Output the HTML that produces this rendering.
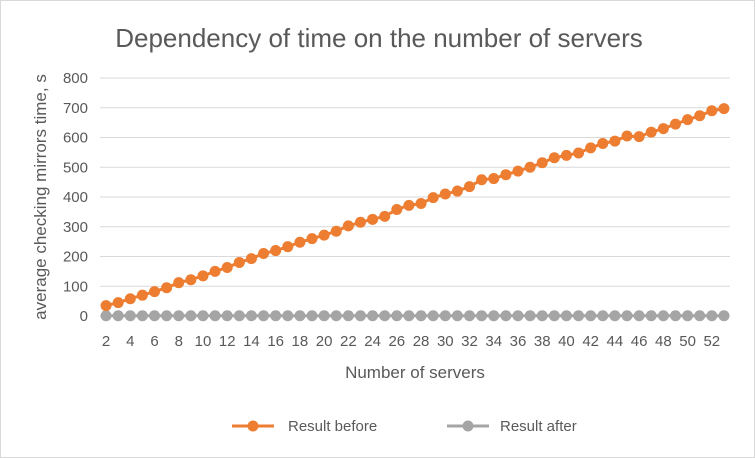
<!DOCTYPE html>
<html><head><meta charset="utf-8"><style>
body{margin:0;background:#fff;font-family:"Liberation Sans",sans-serif}
svg{display:block}
</style></head><body>
<svg width="755" height="458" id="c" font-family="Liberation Sans, sans-serif">
<rect x="0.5" y="0.5" width="754" height="457" fill="#fff" stroke="#d9d9d9"/>
<text x="379" y="47" text-anchor="middle" font-size="26" fill="#595959">Dependency of time on the number of servers</text>
<text transform="translate(46,197) rotate(-90)" text-anchor="middle" font-size="17" fill="#595959">average checking mirrors time, s</text>
<text x="415" y="378" text-anchor="middle" font-size="17" fill="#595959">Number of servers</text>
<g id="grid"></g><g id="yt"></g><g id="xt"></g><g id="series"></g>
<g>
<g>
<line x1="232" y1="426" x2="274" y2="426" stroke="#ed7d31" stroke-width="3"/><circle cx="253" cy="426" r="5.5" fill="#ed7d31"/>
<text x="288" y="431" font-size="15" fill="#595959">Result before</text></g>
<g>
<line x1="447" y1="426" x2="489" y2="426" stroke="#a5a5a5" stroke-width="3"/><circle cx="468" cy="426" r="5.5" fill="#a5a5a5"/>
<text x="500" y="431" font-size="15" fill="#595959">Result after</text></g>
</g>
</svg>
<script>
const categories=[];for(let n=2;n<=53;n++)categories.push(n);
const before=[35,45,58,70,82,95,112,122,135,150,163,180,193,210,220,233,248,260,272,285,303,315,325,335,358,372,378,398,410,420,435,458,462,475,487,500,515,532,540,548,565,580,588,605,603,618,630,645,660,673,690,697];
const after=categories.map(()=>1);
const yTicks=[0,100,200,300,400,500,600,700,800];
const NS="http://www.w3.org/2000/svg";
const X0=100,X1=730,Y0=316,Y1=78;
const bw=(X1-X0)/categories.length;
const xs=i=>X0+bw*(i+0.5);
const ys=v=>Y0-(v/800)*(Y0-Y1);
function mk(t,a,p){const e=document.createElementNS(NS,t);for(const k in a)e.setAttribute(k,a[k]);p.appendChild(e);return e;}
const grid=document.getElementById('grid'),yt=document.getElementById('yt'),xt=document.getElementById('xt'),ser=document.getElementById('series');
yTicks.forEach(v=>{
 const l=mk('line',{x1:X0,x2:X1,y1:ys(v),y2:ys(v),stroke:'#d9d9d9','stroke-width':1},grid);
 
 
 const t=mk('text',{x:88,y:ys(v)+5,'text-anchor':'end','font-size':15,fill:'#595959'},yt);
 t.textContent=v;
 
 
});
categories.forEach((c,i)=>{
 if(c%2===0){
  const t=mk('text',{x:xs(i),y:346,'text-anchor':'middle','font-size':15,fill:'#595959'},xt);
  t.textContent=c;
  
  
 }
});
function draw(vals,col,name){
 const g=mk('g',{},ser);
 
 
 const p=mk('polyline',{points:vals.map((v,i)=>xs(i)+','+ys(v)).join(' '),fill:'none',stroke:col,'stroke-width':3},g);
 
 
 vals.forEach((v,i)=>{
  const c=mk('circle',{cx:xs(i),cy:ys(v),r:5.5,fill:col},g);
  
  
 });
}
draw(after,'#a5a5a5','series-after');
draw(before,'#ed7d31','series-before');
</script>
</body></html>
